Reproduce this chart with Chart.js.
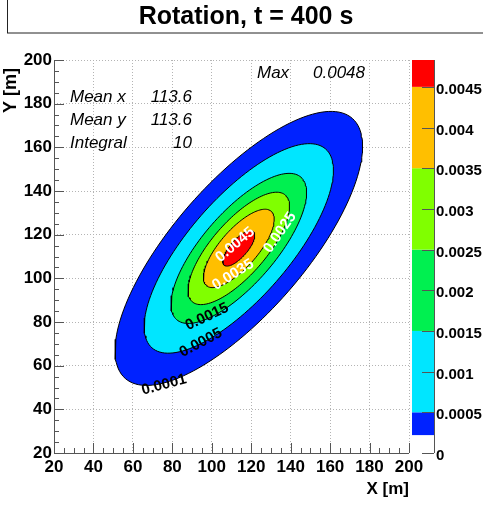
<!DOCTYPE html>
<html>
<head>
<meta charset="utf-8">
<script src="https://cdn.jsdelivr.net/npm/chart.js@4.4.1/dist/chart.umd.min.js"></script>
<style>html,body{margin:0;padding:0;background:#fff}</style>
</head>
<body>
<canvas id="graf" width="483" height="506"></canvas>
<script>
// contour levels, innermost first
const levels = [0.0045, 0.0035, 0.0025, 0.0015, 0.0005, 0.0001];
const levelColors = ["#ff0000", "#ffbf00", "#80ff00", "#00f050", "#00e6ff", "#0022ff"];
// ellipse of each level (semi axes along / across the diagonal, in m)
const semiMajor = [10.7, 23.7, 34.0, 45.4, 63.4, 82.9];
const semiMinor = [4.1, 9.1, 13.0, 17.4, 24.2, 31.7];
const centerX = 113.7, centerY = 113.7, tiltDeg = 45;

// palette bands of the colour bar
const bandLow = [0.00022, 0.0005, 0.0015, 0.0025, 0.0035, 0.0045];
const bandHigh = [0.0005, 0.0015, 0.0025, 0.0035, 0.0045, 0.00483];
const bandColors = ["#0022ff", "#00e6ff", "#00f050", "#80ff00", "#ffbf00", "#ff0000"];
const zMax = 0.00483;

// labels written on the contours
const labelText = ["0.0001", "0.0005", "0.0015", "0.0025", "0.0035", "0.0045"];
const labelX = [75.8, 94.5, 97.6, 134.6, 110.8, 111.8];
const labelY = [51.2, 70.5, 82.4, 121.0, 101.7, 115.4];
const labelAngle = [-15, -28, -25, -55, -32, -40];
const labelWhite = [false, false, false, true, true, true];

const statNames = ["Mean x", "Mean y", "Integral"];
const statValues = ["113.6", "113.6", "10"];
const maxValue = "0.0048";

const titulo = "Rotation, t = 400 s";

function elipse(a, b) {
  const th = tiltDeg * Math.PI / 180;
  const pts = [];
  for (let i = 0; i <= 144; i++) {
    const t = i / 144 * 2 * Math.PI;
    const u = a * Math.cos(t), v = b * Math.sin(t);
    pts.push({ x: centerX + u * Math.cos(th) - v * Math.sin(th),
               y: centerY + u * Math.sin(th) + v * Math.cos(th) });
  }
  return pts;
}

const datasets = levels.map((lv, i) => ({
  label: String(lv),
  data: elipse(semiMajor[i], semiMinor[i]),
  showLine: true,
  pointRadius: 0,
  borderColor: "#000",
  borderWidth: 1,
  backgroundColor: levelColors[i],
  fill: "shape",
  tension: 0
}));

const FONT = "'Liberation Sans', Arial, sans-serif";

const decor = {
  id: "decor",
  beforeDraw(chart) {
    const ctx = chart.ctx;
    ctx.save();
    ctx.fillStyle = "#fff";
    ctx.fillRect(0, 0, chart.width, chart.height);
    // title box
    ctx.strokeStyle = "#222";
    ctx.lineWidth = 1;
    ctx.strokeRect(7.5, -2, 520, 35);
    ctx.fillStyle = "#000";
    ctx.font = "bold 25px " + FONT;
    ctx.textAlign = "center";
    ctx.textBaseline = "alphabetic";
    ctx.fillText(titulo, 246, 24);
    ctx.restore();
  },
  afterDatasetsDraw(chart) {
    const ctx = chart.ctx, xs = chart.scales.x, ys = chart.scales.y;
    ctx.save();
    ctx.font = "bold 15px " + FONT;
    ctx.textAlign = "center";
    ctx.textBaseline = "middle";
    labelText.forEach((t, i) => {
      ctx.save();
      ctx.translate(xs.getPixelForValue(labelX[i]), ys.getPixelForValue(labelY[i]));
      ctx.rotate(labelAngle[i] * Math.PI / 180);
      ctx.fillStyle = labelWhite[i] ? "#fff" : "#000";
      ctx.fillText(t, 0, 0);
      ctx.restore();
    });
    ctx.restore();
  },
  afterDraw(chart) {
    const ctx = chart.ctx, a = chart.chartArea;
    const xs = chart.scales.x, ys = chart.scales.y, zs = chart.scales.z;
    ctx.save();
    ctx.strokeStyle = "#555";
    ctx.lineWidth = 1;
    // axis lines and inward ticks
    ctx.beginPath();
    ctx.moveTo(a.left + 0.5, a.top); ctx.lineTo(a.left + 0.5, a.bottom + 0.5); ctx.lineTo(a.right, a.bottom + 0.5);
    ctx.stroke();
    for (let v = 20; v <= 200; v += 5) {
      const len = v % 20 === 0 ? 10 : 5;
      const px = Math.round(xs.getPixelForValue(v)) + 0.5;
      const py = Math.round(ys.getPixelForValue(v)) + 0.5;
      ctx.beginPath();
      ctx.moveTo(px, a.bottom); ctx.lineTo(px, a.bottom - len);
      ctx.moveTo(a.left, py); ctx.lineTo(a.left + len, py);
      ctx.stroke();
    }
    // colour bar
    const x0 = a.right + 3, x1 = a.right + 25;
    bandLow.forEach((lo, i) => {
      const yTop = zs.getPixelForValue(bandHigh[i]);
      const yBot = zs.getPixelForValue(lo);
      ctx.fillStyle = bandColors[i];
      ctx.fillRect(x0, yTop, x1 - x0, yBot - yTop);
    });
    ctx.strokeStyle = "#555";
    ctx.beginPath();
    ctx.moveTo(x1 + 0.5, a.top); ctx.lineTo(x1 + 0.5, a.bottom);
    zs.ticks.forEach(t => {
      const py = Math.round(zs.getPixelForValue(t.value)) + 0.5;
      ctx.moveTo(x1, py); ctx.lineTo(x1 - 12, py);
    });
    ctx.stroke();
    // stats text
    ctx.fillStyle = "#000";
    ctx.font = "italic 17px " + FONT;
    ctx.textBaseline = "middle";
    statNames.forEach((n, i) => {
      ctx.textAlign = "left";
      ctx.fillText(n, 70, 97 + i * 23);
      ctx.textAlign = "right";
      ctx.fillText(statValues[i], 192, 97 + i * 23);
    });
    ctx.textAlign = "left";
    ctx.fillText("Max", 257, 73);
    ctx.fillText(maxValue, 313, 73);
    // axis titles
    ctx.font = "bold 17px " + FONT;
    ctx.textAlign = "right";
    ctx.fillText("X [m]", a.right, 489);
    ctx.save();
    ctx.translate(11, 68);
    ctx.rotate(-Math.PI / 2);
    ctx.font = "bold 18px " + FONT;
    ctx.textAlign = "right";
    ctx.fillText("Y [m]", 0, 0);
    ctx.restore();
    ctx.restore();
  }
};

const tickFont = { family: FONT, size: 17, weight: "bold" };

new Chart(document.getElementById("graf"), {
  type: "scatter",
  data: { datasets },
  options: {
    responsive: false,
    animation: false,
    layout: { padding: { top: 60, left: 0, right: 0, bottom: 0 } },
    plugins: { legend: { display: false }, title: { display: false }, tooltip: { enabled: false } },
    scales: {
      x: {
        type: "linear", min: 20, max: 200,
        ticks: { stepSize: 20, font: tickFont, color: "#000", padding: 4, maxRotation: 0 },
        grid: { color: "#b4b4b4", drawTicks: false },
        border: { display: false, dash: [1, 2] },
        afterFit: s => { s.height = 53; }
      },
      y: {
        type: "linear", min: 20, max: 200,
        ticks: { stepSize: 20, font: tickFont, color: "#000", padding: 2 },
        grid: { color: "#b4b4b4", drawTicks: false },
        border: { display: false, dash: [1, 2] },
        afterFit: s => { s.width = 54; }
      },
      z: {
        type: "linear", position: "right", min: 0, max: zMax,
        ticks: {
          stepSize: 0.0005, includeBounds: false, color: "#000", padding: 27, labelOffset: 3,
          font: { family: FONT, size: 15, weight: "bold" },
          callback: v => String(+v.toFixed(4))
        },
        grid: { display: false, drawTicks: false },
        border: { display: false },
        afterFit: s => { s.width = 74; }
      }
    }
  },
  plugins: [decor]
});
</script>
</body>
</html>
